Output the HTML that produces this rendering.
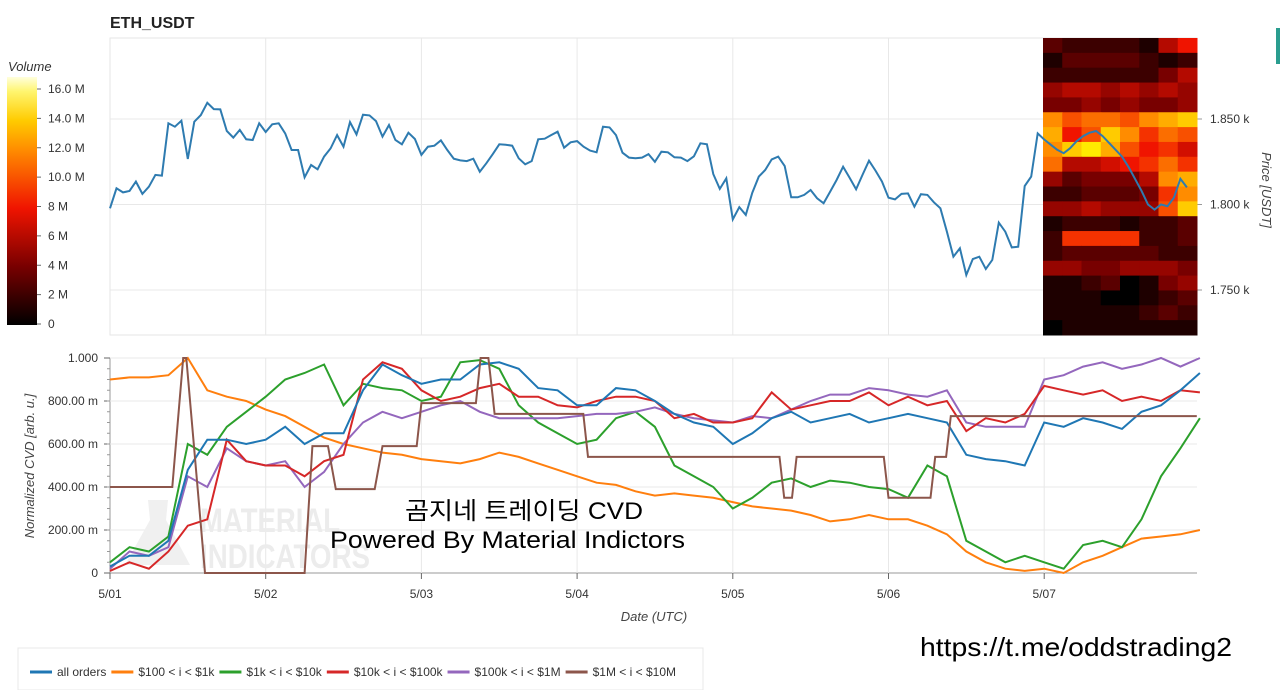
<!DOCTYPE html>
<html><head><meta charset="utf-8">
<style>
body{margin:0;background:#fff;width:1280px;height:690px;overflow:hidden;font-family:"Liberation Sans",sans-serif}
svg text{font-family:"Liberation Sans","Noto Sans CJK KR",sans-serif}
</style></head>
<body>
<svg id="chart" width="1280" height="690" viewBox="0 0 1280 690" xmlns="http://www.w3.org/2000/svg">
<text x="110" y="28" font-size="16" font-weight="bold" fill="#222">ETH_USDT</text>
<g id="topg"></g>
<g id="bot"></g>
<g id="cbar"></g>
<text x="654" y="621" font-size="13" font-style="italic" fill="#444" text-anchor="middle">Date (UTC)</text>
<text transform="translate(34,466) rotate(-90)" font-size="13" font-style="italic" fill="#444" text-anchor="middle">Normalized CVD [arb. u.]</text>
<text transform="translate(1262,190) rotate(90)" font-size="13" font-style="italic" fill="#444" text-anchor="middle">Price [USDT]</text>
<text x="405" y="519" font-size="24" fill="#000" textLength="238" lengthAdjust="spacingAndGlyphs">곰지네 트레이딩 CVD</text>
<text x="330" y="548" font-size="24" fill="#000" textLength="355" lengthAdjust="spacingAndGlyphs">Powered By Material Indictors</text>
<text x="920" y="656" font-size="26" fill="#000" textLength="312" lengthAdjust="spacingAndGlyphs">https://t.me/oddstrading2</text>
<rect x="1276" y="28" width="4" height="36" fill="#2a9d8f"/>
<g id="legend">
<rect x="18" y="648" width="685" height="42" fill="#fff" stroke="#e8e8e8"/>
</g>
</svg>
<script>
const NS="http://www.w3.org/2000/svg";
// ---------- data ----------
const priceVals=[1797.8,1809.5,1807.1,1807.9,1813.4,1806.2,1810.4,1817.3,1816.9,1847.5,1845.5,1849.0,1826.6,1848.4,1852.3,1859.5,1855.8,1855.6,1843.0,1839.1,1843.6,1838.1,1837.7,1847.5,1842.4,1846.9,1847.5,1841.6,1831.9,1831.9,1815.9,1823.1,1820.6,1828.0,1832.8,1840.6,1833.8,1848.2,1841.0,1852.5,1852.1,1848.8,1839.7,1846.5,1837.7,1835.2,1842.0,1838.3,1829.0,1833.8,1834.4,1837.5,1831.9,1826.8,1825.8,1825.4,1826.8,1819.2,1824.1,1829.5,1835.2,1835.0,1834.4,1827.0,1823.5,1825.4,1838.1,1838.5,1840.6,1842.6,1833.2,1836.4,1837.1,1833.8,1831.5,1830.5,1845.5,1845.1,1840.6,1830.3,1827.4,1827.0,1827.4,1829.5,1825.0,1830.9,1830.5,1827.6,1827.4,1825.4,1828.2,1835.8,1835.2,1817.8,1809.1,1815.3,1791.3,1798.5,1793.9,1806.9,1816.3,1820.2,1826.4,1828.0,1822.5,1804.2,1804.2,1805.6,1808.5,1803.6,1800.7,1807.5,1814.3,1822.1,1815.7,1808.9,1817.3,1825.6,1819.8,1813.4,1804.0,1803.0,1806.2,1806.5,1798.7,1806.0,1805.6,1801.3,1797.8,1784.1,1769.5,1774.4,1758.8,1768.1,1769.5,1762.3,1767.6,1789.4,1784.1,1774.9,1775.3,1810.8,1816.3,1841.6,1838,1835,1832,1830,1833,1837,1840,1842,1843,1840,1836,1832,1828,1822,1815,1808,1800,1797,1800,1799,1804,1815,1810];
const priceTicks=[1750,1800,1850];
const priceTickLabels=["1.750 k","1.800 k","1.850 k"];
const heat=[
[3,2,2,2,2,1,6,8],[1,3,3,3,3,2,1,2],[2,2,2,2,2,2,4,6],[5,6,6,5,6,5,6,5],[4,4,5,4,5,4,4,5],
[12,10,11,11,10,12,13,14],[13,8,10,14,12,9,11,10],[12,14,15,13,10,8,9,7],[11,6,6,7,8,9,11,9],[5,3,4,4,4,6,12,13],
[2,2,3,3,3,4,9,12],[5,5,6,5,5,5,10,14],[1,2,2,2,1,2,2,3],[2,9,9,9,9,2,2,3],[2,3,3,3,3,3,2,2],
[5,5,4,4,5,5,5,4],[1,1,2,3,0,1,4,5],[1,1,1,0,0,1,2,3],[1,1,1,1,1,2,3,2],[0,1,1,1,1,1,1,1]];
const cbarTicks=[0,2,4,6,8,10,12,14,16];
const cbarLabels=["0","2 M","4 M","6 M","8 M","10.0 M","12.0 M","14.0 M","16.0 M"];
const dayLabels=["5/01","5/02","5/03","5/04","5/05","5/06","5/07"];
const cvdTicks=[0,0.2,0.4,0.6,0.8,1.0];
const cvdTickLabels=["0","200.00 m","400.00 m","600.00 m","800.00 m","1.000"];
const allOrders=[0.03,0.08,0.08,0.15,0.48,0.62,0.62,0.6,0.62,0.68,0.6,0.65,0.65,0.85,0.97,0.92,0.88,0.9,0.9,0.97,0.98,0.95,0.86,0.85,0.78,0.78,0.86,0.85,0.8,0.74,0.7,0.68,0.6,0.65,0.72,0.75,0.7,0.72,0.74,0.7,0.72,0.74,0.72,0.7,0.55,0.53,0.52,0.5,0.7,0.68,0.72,0.7,0.67,0.75,0.78,0.85,0.93];
const s100=[0.9,0.91,0.91,0.92,1.0,0.85,0.82,0.8,0.76,0.73,0.68,0.63,0.6,0.58,0.56,0.55,0.53,0.52,0.51,0.53,0.56,0.54,0.51,0.48,0.45,0.42,0.41,0.38,0.36,0.37,0.36,0.35,0.33,0.31,0.3,0.29,0.27,0.24,0.25,0.27,0.25,0.25,0.22,0.18,0.1,0.05,0.02,0.01,0.02,0.0,0.05,0.08,0.12,0.16,0.17,0.18,0.2];
const s1k=[0.05,0.12,0.1,0.17,0.6,0.55,0.68,0.75,0.82,0.9,0.93,0.97,0.78,0.88,0.86,0.85,0.8,0.82,0.98,0.99,0.95,0.78,0.7,0.65,0.6,0.62,0.72,0.75,0.68,0.5,0.45,0.4,0.3,0.35,0.42,0.44,0.4,0.43,0.42,0.4,0.39,0.35,0.5,0.45,0.15,0.1,0.05,0.08,0.05,0.02,0.13,0.15,0.12,0.25,0.45,0.58,0.72];
const s10k=[0.01,0.05,0.02,0.1,0.22,0.25,0.62,0.52,0.5,0.5,0.45,0.52,0.55,0.9,0.98,0.95,0.85,0.8,0.82,0.86,0.88,0.82,0.82,0.78,0.77,0.8,0.82,0.82,0.8,0.72,0.74,0.7,0.7,0.72,0.84,0.76,0.78,0.8,0.8,0.84,0.78,0.82,0.78,0.8,0.66,0.72,0.7,0.74,0.87,0.85,0.83,0.85,0.8,0.82,0.8,0.85,0.84];
const s100k=[0.02,0.1,0.08,0.12,0.45,0.4,0.58,0.52,0.5,0.52,0.4,0.47,0.6,0.7,0.75,0.72,0.75,0.78,0.8,0.75,0.72,0.72,0.72,0.72,0.73,0.74,0.74,0.75,0.77,0.74,0.72,0.71,0.7,0.73,0.72,0.76,0.8,0.83,0.83,0.86,0.85,0.83,0.82,0.85,0.7,0.68,0.68,0.68,0.9,0.92,0.96,0.98,0.95,0.97,1.0,0.96,1.0];
const brownT=[0,0.4,0.47,0.49,0.61,1.25,1.3,1.4,1.45,1.7,1.75,1.97,2.0,2.35,2.38,2.43,2.47,3.04,3.07,4.3,4.33,4.38,4.41,4.97,5.0,5.27,5.3,5.37,5.4,7.0];
const brownV=[0.4,0.4,1.0,1.0,0.0,0.0,0.59,0.59,0.39,0.39,0.59,0.59,0.79,0.79,1.0,1.0,0.74,0.74,0.54,0.54,0.35,0.35,0.54,0.54,0.35,0.35,0.54,0.54,0.73,0.73];
const seriesNames=["all orders","$100 < i < $1k","$1k < i < $10k","$10k < i < $100k","$100k < i < $1M","$1M < i < $10M"];
const seriesColors=["#1f77b4","#ff7f0e","#2ca02c","#d62728","#9467bd","#8c564b"];
// ---------- scales ----------
const X0=110,X1=1197,DAY=155.7;
const xs=t=>X0+t*DAY;
const yP=p=>119+(1850-p)*85.5/50;
const yC=v=>573-v*215;
function el(tag,attrs,parent){const e=document.createElementNS(NS,tag);for(const k in attrs)e.setAttribute(k,attrs[k]);parent.appendChild(e);return e;}
const topG=document.getElementById('topg'),bot=document.getElementById('bot'),cb=document.getElementById('cbar'),lg=document.getElementById('legend');
function heatColor(v){
 const stops=[[0,[0,0,0]],[4,[120,0,0]],[8,[240,20,0]],[12,[255,140,0]],[15,[255,235,0]],[17,[255,255,220]]];
 for(let i=1;i<stops.length;i++){if(v<=stops[i][0]){const a=stops[i-1],b=stops[i],f=(v-a[0])/(b[0]-a[0]);return 'rgb('+a[1].map((c,j)=>Math.round(c+(b[1][j]-c)*f)).join(',')+')';}}
 return 'rgb(255,255,220)';}
// top frame & grid
let r=el('rect',{x:X0,y:38,width:X1-X0,height:297,fill:'#fff',stroke:'#e6e6e6'},topG);


for(let d=1;d<7;d++){const g=el('line',{x1:xs(d),x2:xs(d),y1:38,y2:335,stroke:'#e8e8e8'},topG);
 
 }
priceTicks.forEach((p,i)=>{const g=el('line',{x1:X0,x2:X1,y1:yP(p),y2:yP(p),stroke:'#e8e8e8'},topG);
 
 
 const t=el('text',{x:1210,y:yP(p)+4,'font-size':12,fill:'#333'},topG);t.textContent=priceTickLabels[i];
 
 
 el('line',{x1:X1,x2:X1+5,y1:yP(p),y2:yP(p),stroke:'#999'},topG);});
// heatmap
const hx0=1043,cw=(X1-hx0)/heat[0].length,rh=297/heat.length;
heat.forEach((row,ri)=>row.forEach((v,ci)=>{const c=el('rect',{x:hx0+ci*cw,y:38+ri*rh,width:cw+0.5,height:rh+0.5,fill:heatColor(v)},topG);
 
 }));
// price line
const pp=priceVals.map((p,i)=>xs(i/24).toFixed(1)+','+yP(p).toFixed(1)).join(' ');
const pl=el('polyline',{points:pp,fill:'none',stroke:'#2e7bb0','stroke-width':2},topG);


// colorbar
const cy=v=>324-v*(324-89)/16;
const grad=el('linearGradient',{id:'cg',x1:0,y1:1,x2:0,y2:0},el('defs',{},cb));
[0,2,4,6,8,10,12,14,16,17].forEach(v=>el('stop',{offset:(v/17).toFixed(3),'stop-color':heatColor(v)},grad));
const cr=el('rect',{x:7,y:77,width:30,height:248,fill:'url(#cg)'},cb);


const ct=el('text',{x:8,y:71,'font-size':13,'font-style':'italic',fill:'#333'},cb);ct.textContent='Volume';


cbarTicks.forEach((v,i)=>{el('line',{x1:37,x2:41,y1:cy(v),y2:cy(v),stroke:'#666'},cb);
 const t=el('text',{x:48,y:cy(v)+4,'font-size':12,fill:'#333'},cb);t.textContent=cbarLabels[i];
 
 });
// bottom panel
el('line',{x1:X0,x2:X0,y1:358,y2:573,stroke:'#999'},bot);
el('line',{x1:X0,x2:X1,y1:573,y2:573,stroke:'#999'},bot);
for(let d=1;d<7;d++){const g=el('line',{x1:xs(d),x2:xs(d),y1:358,y2:573,stroke:'#e8e8e8'},bot);
 
 }
cvdTicks.forEach((v,i)=>{if(v>0){const g=el('line',{x1:X0,x2:X1,y1:yC(v),y2:yC(v),stroke:'#e8e8e8'},bot);
 
 }
 el('line',{x1:X0-6,x2:X0,y1:yC(v),y2:yC(v),stroke:'#666'},bot);
 const t=el('text',{x:X0-12,y:yC(v)+4,'font-size':12,fill:'#333','text-anchor':'end'},bot);t.textContent=cvdTickLabels[i];
 
 });
for(let v=0.05;v<1;v+=0.05){el('line',{x1:X0-3,x2:X0,y1:yC(v),y2:yC(v),stroke:'#999'},bot);}
dayLabels.forEach((s,d)=>{el('line',{x1:xs(d),x2:xs(d),y1:573,y2:579,stroke:'#666'},bot);
 const t=el('text',{x:xs(d),y:598,'font-size':12,fill:'#333','text-anchor':'middle'},bot);t.textContent=s;
 
 });
// watermark logo
el('path',{d:'M148 500 L168 500 L166 520 L190 565 L125 565 L150 520 Z',fill:'#f0f0f0'},bot);
const wm=el('text',{x:200,y:532,'font-size':34,'font-weight':'bold',fill:'#ececec',textLength:140,lengthAdjust:'spacingAndGlyphs'},bot);wm.textContent='MATERIAL';


const wm2=el('text',{x:200,y:568,'font-size':34,'font-weight':'bold',fill:'#ececec',textLength:170,lengthAdjust:'spacingAndGlyphs'},bot);wm2.textContent='INDICATORS';


// series
const series=[allOrders,s100,s1k,s10k,s100k];
const drawOrder=[1,2,4,3,0];
drawOrder.forEach(k=>{const pts=series[k].map((v,i)=>xs(i*0.125).toFixed(1)+','+yC(v).toFixed(1)).join(' ');
 const l=el('polyline',{points:pts,fill:'none',stroke:seriesColors[k],'stroke-width':2},bot);
 
 });
const bp=brownT.map((t,i)=>xs(Math.min(t,6.98)).toFixed(1)+','+yC(brownV[i]).toFixed(1)).join(' ');
const bl=el('polyline',{points:bp,fill:'none',stroke:seriesColors[5],'stroke-width':2},bot);


// legend
let lx=30;
seriesNames.forEach((n,i)=>{el('line',{x1:lx,x2:lx+22,y1:672,y2:672,stroke:seriesColors[i],'stroke-width':3},lg);
 const t=el('text',{x:lx+27,y:676,'font-size':12,fill:'#333'},lg);t.textContent=n;
 
 
 lx+=27+t.getComputedTextLength()+5;});
</script>
</body></html>
